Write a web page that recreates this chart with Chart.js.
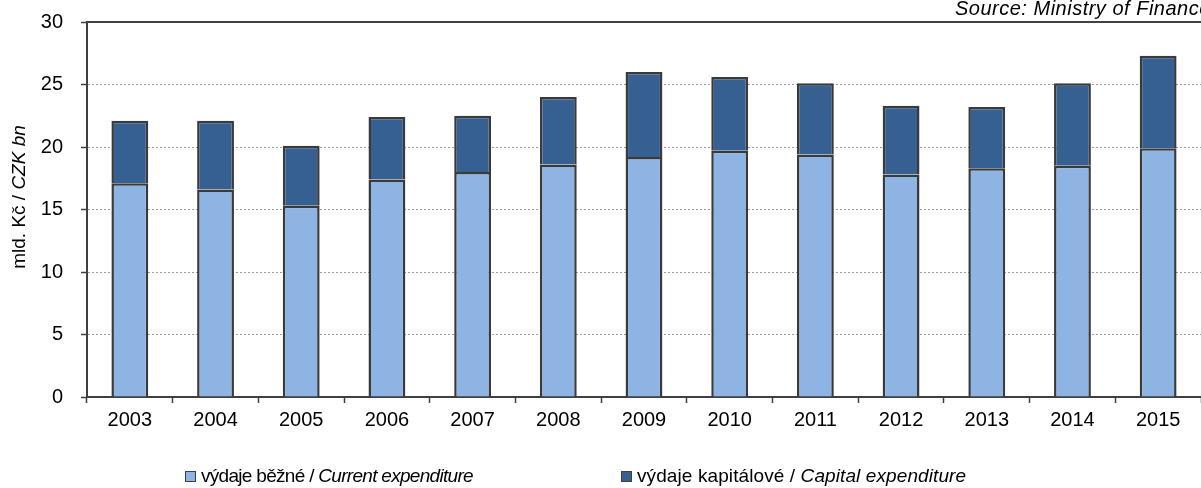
<!DOCTYPE html>
<html>
<head>
<meta charset="utf-8">
<script src="https://cdn.jsdelivr.net/npm/chart.js@4.4.1/dist/chart.umd.min.js"></script>
<style>
  html, body { margin: 0; padding: 0; background: #fff; }
  #wrap { width: 1201px; height: 488px; }
</style>
</head>
<body>
<div id="wrap"><canvas id="chart"></canvas></div>
<script>
// Data (mld. Kč / CZK bn)
const years = ['2003', '2004', '2005', '2006', '2007', '2008', '2009', '2010', '2011', '2012', '2013', '2014', '2015'];
const currentExp = [17.1, 16.6, 15.3, 17.4, 18.0, 18.6, 19.2, 19.7, 19.4, 17.8, 18.3, 18.5, 19.9];
const capitalExp = [5.0, 5.5, 4.8, 5.0, 4.5, 5.4, 6.8, 5.9, 5.7, 5.5, 4.9, 6.6, 7.4];
const yTicks = [0, 5, 10, 15, 20, 25, 30];

const FONT = "'Liberation Sans', Arial, sans-serif";
const LIGHT = '#8EB4E3';
const DARK = '#366092';
const AXIS = '#404040';

// Y title, source note, top border and legend with mixed italic text
const extras = {
    id: 'extras',
    afterDraw(chart) {
        const ctx = chart.ctx;
        const area = chart.chartArea;

        // top border of plot area
        ctx.save();
        ctx.strokeStyle = AXIS;
        ctx.lineWidth = 2;
        ctx.beginPath();
        ctx.moveTo(area.left, area.top);
        ctx.lineTo(area.right, area.top);
        ctx.stroke();
        ctx.restore();

        // source note
        ctx.save();
        ctx.fillStyle = '#000';
        ctx.font = 'italic 20px ' + FONT;
        ctx.letterSpacing = '0.5px';
        ctx.textBaseline = 'alphabetic';
        ctx.fillText('Source: Ministry of Finance', 955, 15);
        ctx.restore();

        // y axis title
        ctx.save();
        ctx.translate(20, 197);
        ctx.rotate(-Math.PI / 2);
        ctx.fillStyle = '#000';
        ctx.textBaseline = 'middle';
        const a = 'mld. Kč / ';
        const b = 'CZK bn';
        ctx.font = '19px ' + FONT;
        const wa = ctx.measureText(a).width;
        ctx.font = 'italic 19px ' + FONT;
        const wb = ctx.measureText(b).width;
        let x = -(wa + wb) / 2;
        ctx.font = '19px ' + FONT;
        ctx.fillText(a, x, 0);
        ctx.font = 'italic 19px ' + FONT;
        ctx.fillText(b, x + wa, 0);
        ctx.restore();

        // legend
        const items = [
            { x: 185, color: LIGHT, plain: 'výdaje běžné / ', ital: 'Current expenditure', ls: '-0.7px' },
            { x: 621, color: DARK, plain: 'výdaje kapitálové / ', ital: 'Capital expenditure', ls: '0.1px' }
        ];
        items.forEach(it => {
            ctx.save();
            ctx.fillStyle = it.color;
            ctx.fillRect(it.x, 471, 11, 11);
            ctx.strokeStyle = AXIS;
            ctx.lineWidth = 1;
            ctx.strokeRect(it.x + 0.5, 471.5, 10, 10);
            ctx.fillStyle = '#000';
            ctx.textBaseline = 'alphabetic';
            ctx.letterSpacing = it.ls;
            ctx.font = '19px ' + FONT;
            const w = ctx.measureText(it.plain).width;
            ctx.fillText(it.plain, it.x + 16, 482);
            ctx.font = 'italic 19px ' + FONT;
            ctx.fillText(it.ital, it.x + 16 + w, 482);
            ctx.restore();
        });
    }
};

new Chart(document.getElementById('chart'), {
    type: 'bar',
    data: {
        labels: years,
        datasets: [{
            label: 'výdaje běžné / Current expenditure',
            data: currentExp,
            backgroundColor: LIGHT,
            borderColor: '#3a3a3a',
            borderWidth: 2.5
        }, {
            label: 'výdaje kapitálové / Capital expenditure',
            data: capitalExp,
            backgroundColor: DARK,
            borderColor: '#3a3a3a',
            borderWidth: 2.5
        }]
    },
    options: {
        responsive: true,
        maintainAspectRatio: false,
        animation: false,
        layout: { padding: { top: 22, left: 0, right: 0, bottom: 0 } },
        datasets: { bar: { categoryPercentage: 1, barPercentage: 0.43 } },
        plugins: {
            legend: { display: false },
            tooltip: { enabled: false }
        },
        scales: {
            x: {
                stacked: true,
                offset: true,
                afterFit: function(scale) {
                    scale.height = 91;
                    scale.paddingLeft = 0;
                    scale.paddingRight = 0;
                },
                grid: {
                    offset: true,
                    drawOnChartArea: false,
                    tickLength: 6,
                    tickColor: AXIS,
                    tickWidth: 1.5
                },
                border: { color: AXIS, width: 2 },
                ticks: { color: '#000', font: { family: FONT, size: 20 }, padding: 5, maxRotation: 0 }
            },
            y: {
                stacked: true,
                min: 0,
                max: 30,
                afterFit: function(scale) {
                    scale.width = 87;
                    scale.paddingTop = 0;
                    scale.paddingBottom = 0;
                },
                afterBuildTicks: function(scale) { scale.ticks = yTicks.map(v => ({ value: v })); },
                grid: {
                    color: function(c) {
                        return (c.tick && (c.tick.value === 0 || c.tick.value === 30)) ? 'rgba(0,0,0,0)' : '#9a9a9a';
                    },
                    lineWidth: 1,
                    tickLength: 6,
                    tickColor: AXIS,
                    tickWidth: 1.5
                },
                border: { color: AXIS, width: 2, dash: [2, 2] },
                ticks: { color: '#000', font: { family: FONT, size: 20 }, padding: 18 }
            }
        }
    },
    plugins: [extras]
});
</script>
</body>
</html>
